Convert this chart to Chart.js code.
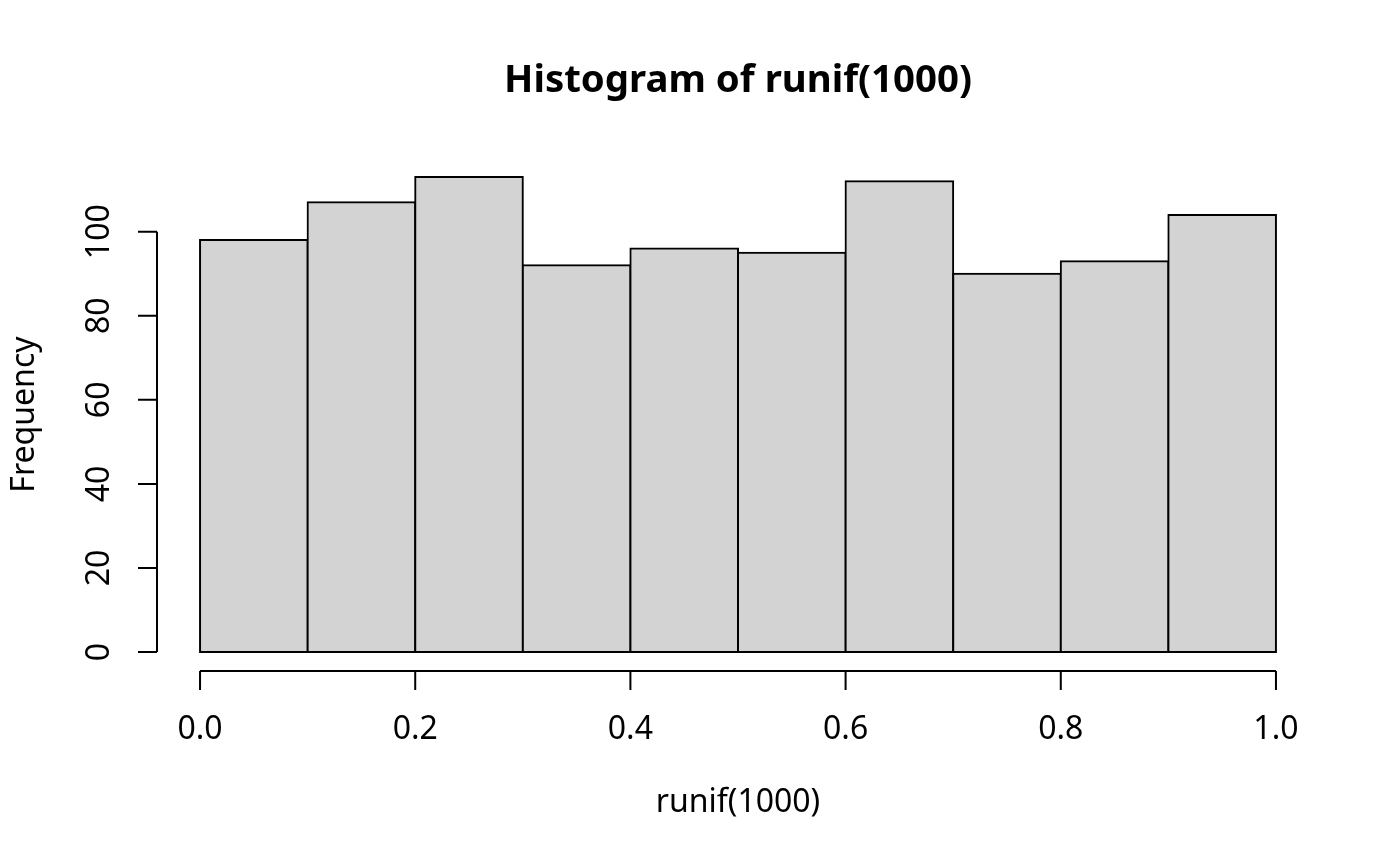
<!DOCTYPE html>
<html>
<head>
<meta charset="utf-8">
<title>Histogram of runif(1000)</title>
<script src="https://cdn.jsdelivr.net/npm/chart.js@4.4.1/dist/chart.umd.min.js"></script>
<style>
  html, body { margin: 0; padding: 0; background: #fff; }
  #wrap { width: 1400px; height: 866px; }
</style>
</head>
<body>
<div id="wrap"><canvas id="hist" width="1400" height="866"></canvas></div>
<script>
// histogram bins (breaks every 0.1) and their counts
const binMids = [0.05, 0.15, 0.25, 0.35, 0.45, 0.55, 0.65, 0.75, 0.85, 0.95];
const counts = [98, 107, 113, 92, 96, 95, 112, 90, 93, 104];
const xTicks = [0, 0.2, 0.4, 0.6, 0.8, 1.0];
const yTicks = [0, 20, 40, 60, 80, 100];

const FONT = '"Noto Sans", "Open Sans", sans-serif';

// R style axes: detached lines that only span the tick range
const rAxes = {
  id: 'rAxes',
  afterLayout(chart) {
    // centre the main title over the plot region, like R does
    if (chart.titleBlock) {
      chart.titleBlock.left = chart.chartArea.left;
      chart.titleBlock.right = chart.chartArea.right;
    }
  },
  afterDraw(chart) {
    const { ctx, chartArea, scales: { x, y } } = chart;
    const tl = 19;
    ctx.save();
    ctx.strokeStyle = '#000';
    ctx.lineWidth = 2;
    ctx.beginPath();
    // x axis
    const xb = chartArea.bottom;
    ctx.moveTo(x.getPixelForValue(xTicks[0]), xb);
    ctx.lineTo(x.getPixelForValue(xTicks[xTicks.length - 1]), xb);
    xTicks.forEach(v => {
      const px = x.getPixelForValue(v);
      ctx.moveTo(px, xb);
      ctx.lineTo(px, xb + tl);
    });
    // y axis
    const yl = chartArea.left;
    ctx.moveTo(yl, y.getPixelForValue(yTicks[0]));
    ctx.lineTo(yl, y.getPixelForValue(yTicks[yTicks.length - 1]));
    yTicks.forEach(v => {
      const py = y.getPixelForValue(v);
      ctx.moveTo(yl, py);
      ctx.lineTo(yl - tl, py);
    });
    ctx.stroke();

    // rotated y tick labels
    ctx.fillStyle = '#000';
    ctx.font = '32px ' + FONT;
    ctx.textAlign = 'center';
    ctx.textBaseline = 'middle';
    yTicks.forEach(v => {
      const py = y.getPixelForValue(v);
      ctx.save();
      ctx.translate(yl - 57, py);
      ctx.rotate(-Math.PI / 2);
      ctx.fillText(String(v), 0, 0);
      ctx.restore();
    });
    ctx.restore();
  }
};

new Chart(document.getElementById('hist'), {
  type: 'bar',
  data: {
    datasets: [{
      label: 'Frequency',
      data: binMids.map((m, i) => ({ x: m, y: counts[i] })),
      backgroundColor: '#d3d3d3',
      borderColor: '#000',
      borderWidth: 2,
      borderSkipped: false,
      inflateAmount: 1,
      barPercentage: 1,
      categoryPercentage: 1
    }]
  },
  options: {
    responsive: false,
    animation: false,
    devicePixelRatio: 1,
    layout: { padding: { left: 0, right: 81, top: 0, bottom: 0 } },
    plugins: {
      legend: { display: false },
      tooltip: { enabled: false },
      title: {
        display: true,
        text: 'Histogram of runif(1000)',
        color: '#000',
        font: { family: FONT, size: 38.4, weight: 'bold', lineHeight: 1.2 },
        padding: { top: 58, bottom: 54 }
      }
    },
    scales: {
      x: {
        type: 'linear',
        min: -0.04,
        max: 1.04,
        offset: false,
        grid: { display: false, drawTicks: false },
        border: { display: false },
        afterBuildTicks: s => { s.ticks = xTicks.map(v => ({ value: v })); },
        afterFit: s => { s.height = 195; },
        ticks: {
          color: '#000',
          font: { family: FONT, size: 32 },
          padding: 40,
          maxRotation: 0,
          autoSkip: false,
          callback: v => v.toFixed(1)
        },
        title: {
          display: true,
          text: 'runif(1000)',
          color: '#000',
          font: { family: FONT, size: 32, lineHeight: 1.2 },
          padding: { top: 0, bottom: 44 }
        }
      },
      y: {
        min: -4.52,
        max: 117.52,
        grid: { display: false, drawTicks: false },
        border: { display: false },
        ticks: { display: false },
        afterFit: s => { s.width = 157; },
        title: {
          display: true,
          text: 'Frequency',
          color: '#000',
          font: { family: FONT, size: 32, lineHeight: 1.2 },
          padding: { top: 6, bottom: 0 }
        }
      }
    }
  },
  plugins: [rAxes]
});
</script>
</body>
</html>
